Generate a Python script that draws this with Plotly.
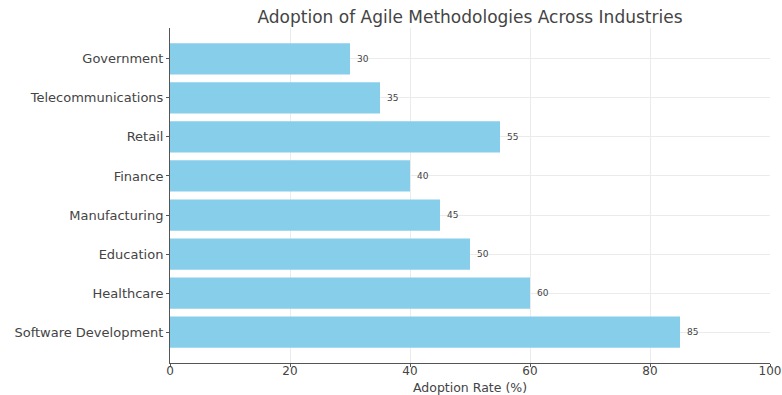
import plotly.graph_objects as go

industries = ["Software Development", "Healthcare", "Education", "Manufacturing",
              "Finance", "Retail", "Telecommunications", "Government"]
adoption = [85, 60, 50, 45, 40, 55, 35, 30]
x_ticks = [0, 20, 40, 60, 80, 100]

fig = go.Figure(go.Bar(
    y=industries, x=adoption, orientation="h",
    marker=dict(color="#87CEEB", line=dict(width=0)),
    width=0.8,
))

for ind, v in zip(industries, adoption):
    fig.add_annotation(x=v, y=ind, text=str(v), showarrow=False,
                       xanchor="left", xshift=5,
                       font=dict(size=9, color="#444444", family="DejaVu Sans"))

fig.add_annotation(text="Adoption Rate (%)", xref="paper", yref="paper",
                   x=0.5, y=0, yshift=-24, yanchor="middle", showarrow=False,
                   font=dict(size=12.5, color="#444444", family="DejaVu Sans"))

fig.update_layout(
    width=782, height=395,
    margin=dict(l=170, r=12, t=28, b=32, autoexpand=False),
    plot_bgcolor="white", paper_bgcolor="white",
    font=dict(family="DejaVu Sans", color="#444444", size=13),
    title=dict(text="Adoption of Agile Methodologies Across Industries",
               x=0.5, xanchor="center", xref="paper", y=0.957, yanchor="middle",
               font=dict(size=17, color="#444444")),
    showlegend=False,
)
fig.update_xaxes(
    range=[0, 100], tickvals=x_ticks, ticks="outside", ticklen=3, tickcolor="#555",
    showgrid=True, gridcolor="#ebebeb", gridwidth=1, automargin=False,
    showline=True, linecolor="#555", linewidth=1, zeroline=False,
    ticklabeloverflow="allow", ticklabelstandoff=-6,
    tickfont=dict(size=12),
)
fig.update_yaxes(
    categoryorder="array", categoryarray=industries, range=[-0.79, 7.79],
    ticks="outside", ticklen=3, tickcolor="#555", automargin=False,
    showgrid=True, gridcolor="#ebebeb", gridwidth=1,
    showline=True, linecolor="#555", linewidth=1,
    tickfont=dict(size=13),
)

fig.write_html("out.html")
